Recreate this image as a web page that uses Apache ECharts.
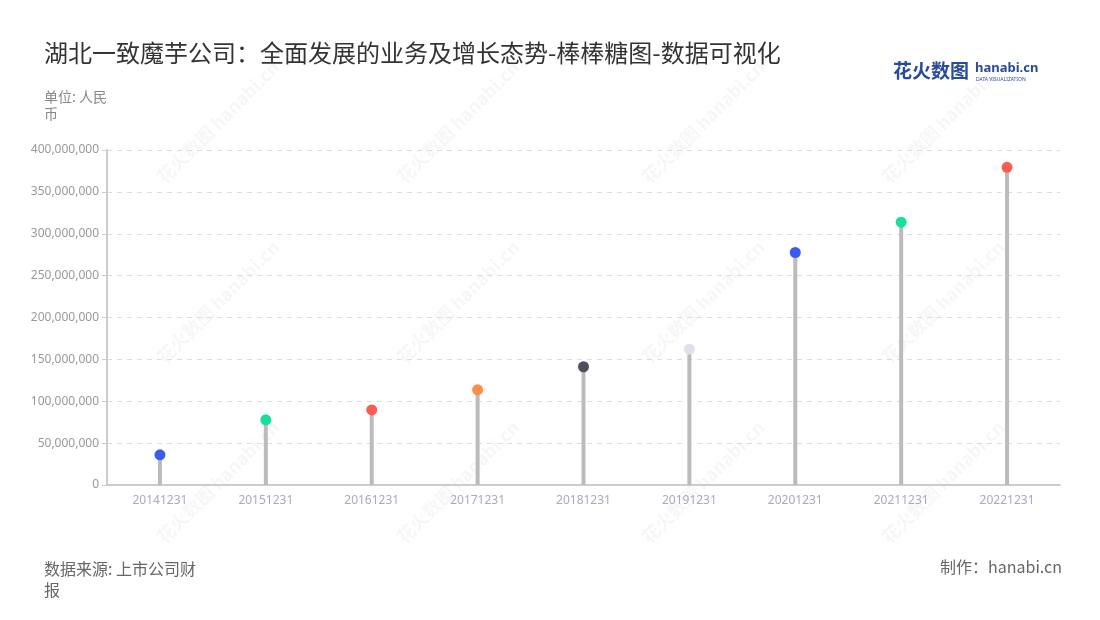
<!DOCTYPE html>
<html>
<head>
<meta charset="utf-8">
<script src="https://cdn.jsdelivr.net/npm/echarts@6/dist/echarts.min.js"></script>
<style>html,body{margin:0;padding:0;background:#fff}#c{width:1100px;height:620px}</style>
</head>
<body>
<div id="c"></div>
<script>
const categories = ['20141231','20151231','20161231','20171231','20181231','20191231','20201231','20211231','20221231'];
const values = [36000000, 77800000, 89700000, 113700000, 141200000, 162200000, 277600000, 313800000, 379300000];
const dotColors = ['#3b5bef','#16e0a0','#ff5b50','#ff8d4e','#50505c','#dde1ea','#3b5bef','#16e0a0','#ff5b50'];
const yTicks = { min: 0, max: 400000000, interval: 50000000 };

const font = '"Noto Sans CJK SC","Noto Sans",sans-serif';
const chart = echarts.init(document.getElementById('c'), null, {renderer:'canvas'});

const marks = [];
const wmPos = [[160,180],[400,180],[645,180],[885,180],[160,360],[400,360],[645,360],[885,360],[160,540],[400,540],[645,540],[885,540]];
wmPos.forEach(p => {
  marks.push({type:'text', x:p[0], y:p[1], rotation:Math.PI/4, z:-1, silent:true,
    style:{text:'花火数图 hanabi.cn', fill:'rgba(0,0,0,0.035)', font:'bold 18px ' + font, textAlign:'left', textVerticalAlign:'middle'}});
});
marks.push({type:'text', left:893, top:61, style:{text:'花火数图', fill:'#2a4a9c', font:'bold 19px ' + font}});
marks.push({type:'text', left:975, top:62, style:{text:'hanabi.cn', fill:'#2a4a9c', font:'bold 13px "Noto Sans",sans-serif'}});
marks.push({type:'text', left:976, top:77, style:{text:'DATA VISUALIZATION', fill:'#2a4a9c', font:'5px "Noto Sans",sans-serif'}});

chart.setOption({
  backgroundColor:'#fff',
  title:[
    {text:'湖北一致魔芋公司：全面发展的业务及增长态势-棒棒糖图-数据可视化', left:39, top:36,
      textStyle:{fontSize:24, fontWeight:'normal', color:'#333', fontFamily:font}},
    {text:'单位: 人民\n币', left:39, top:83, textStyle:{fontSize:14, fontWeight:'normal', color:'#888', fontFamily:font, lineHeight:17}},
    {text:'数据来源: 上市公司财\n报', left:39, top:553, textStyle:{fontSize:16, fontWeight:'normal', color:'#666', fontFamily:font, lineHeight:21}},
    {text:'制作：hanabi.cn', right:33, top:554, textStyle:{fontSize:16, fontWeight:'normal', color:'#666', fontFamily:font}}
  ],
  graphic: marks,
  grid:{left:107, right:40, top:150, bottom:135, containLabel:false},
  xAxis:{type:'category', data:categories,
    axisLine:{lineStyle:{color:'#ccc', width:2}},
    axisTick:{alignWithLabel:true, lineStyle:{color:'#ccc'}},
    axisLabel:{color:'#aab', fontSize:12, fontFamily:'"Noto Sans",sans-serif', margin:10}},
  yAxis:{type:'value', min:yTicks.min, max:yTicks.max, interval:yTicks.interval,
    axisLine:{show:true, lineStyle:{color:'#ccc', width:2}},
    axisTick:{show:true, lineStyle:{color:'#ccc'}},
    splitLine:{lineStyle:{color:'#ddd', type:[5,5]}},
    axisLabel:{color:'#999', fontSize:12, fontFamily:'"Noto Sans",sans-serif',
      formatter:v => v.toLocaleString('en-US')}},
  series:[
    {type:'bar', data:values, barWidth:4, itemStyle:{color:'#bbb'}, silent:true, z:2},
    {type:'scatter', data:values.map((v,i)=>({value:v, itemStyle:{color:dotColors[i], opacity:1}})), symbolSize:11, z:3}
  ]
});
</script>
</body>
</html>
